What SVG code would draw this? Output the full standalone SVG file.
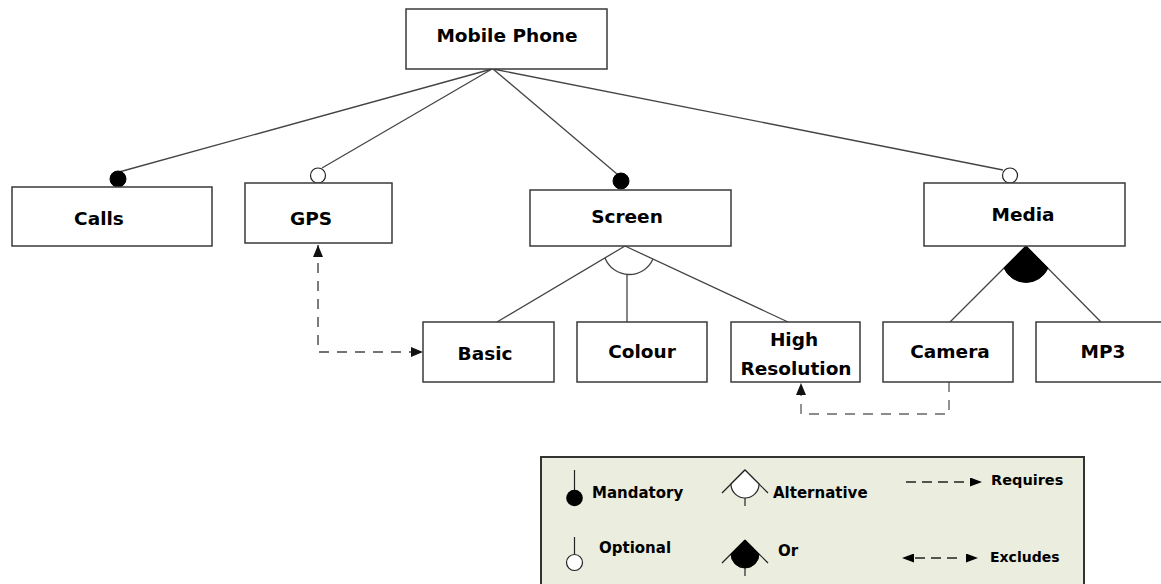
<svg xmlns="http://www.w3.org/2000/svg" width="1161" height="584" viewBox="0 0 1161 584">
  <style>
    .box { fill: #ffffff; stroke: #3a3a3a; stroke-width: 1.5; }
    .lbl { font-family: "DejaVu Sans", Verdana, sans-serif; font-weight: bold; font-size: 18.5px; fill: #000; text-anchor: middle; }
    .key { font-family: "DejaVu Sans", Verdana, sans-serif; font-weight: bold; font-size: 15px; fill: #000; }
    .edge { fill: none; stroke: #444; stroke-width: 1.3; }
    .dash { fill: none; stroke: #444; stroke-width: 1.4; stroke-dasharray: 10 8; }
    .dash2 { fill: none; stroke: #666; stroke-width: 1.4; stroke-dasharray: 10 8; }
    .mand { fill: #000; stroke: #000; stroke-width: 1; }
    .opt { fill: #fff; stroke: #222; stroke-width: 1.2; }
  </style>
  <defs>
    <marker id="arrow" markerUnits="userSpaceOnUse" markerWidth="12" markerHeight="10" refX="12" refY="5" orient="auto-start-reverse">
      <path d="M0,0 L12,5 L0,10 Z" fill="#111"/>
    </marker>
    <marker id="arrowSmall" markerUnits="userSpaceOnUse" markerWidth="12" markerHeight="9" refX="12" refY="4.5" orient="auto-start-reverse">
      <path d="M0,0 L12,4.5 L0,9 Z" fill="#000"/>
    </marker>
  </defs>

  <rect width="1161" height="584" fill="#ffffff"/>

  <!-- connectors -->
  <g id="connectors">
    <!-- root to children -->
    <line class="edge" x1="492" y1="69" x2="119" y2="172"/>
    <line class="edge" x1="492" y1="69" x2="322" y2="168"/>
    <line class="edge" x1="493" y1="69" x2="617" y2="174"/>
    <line class="edge" x1="493" y1="69" x2="1003" y2="170"/>
    <circle class="mand" cx="118" cy="179" r="8"/>
    <circle class="opt" cx="318" cy="175.5" r="7.5"/>
    <circle class="mand" cx="621" cy="181" r="8"/>
    <circle class="opt" cx="1010" cy="175.5" r="7.5"/>

    <!-- Screen alternative group -->
    <line class="edge" x1="625" y1="246" x2="497" y2="322"/>
    <line class="edge" x1="625" y1="246" x2="788" y2="322"/>
    <line class="edge" x1="627" y1="275" x2="627" y2="322"/>
    <path class="edge" d="M605,258 A26,26 0 0,0 653,259"/>

    <!-- Media or group -->
    <line class="edge" x1="1026" y1="246" x2="950" y2="322"/>
    <line class="edge" x1="1026" y1="246" x2="1101" y2="322"/>
    <path d="M1026,246 L1004,268 A24,24 0 0,0 1048,268 Z" fill="#000" stroke="#000" stroke-width="1"/>

    <!-- cross-tree constraints -->
    <path class="dash" d="M318,245 V352 H423" marker-start="url(#arrow)" marker-end="url(#arrow)"/>
    <path class="dash2" d="M949,382 V414 H801 V383" marker-end="url(#arrow)"/>
  </g>

  <!-- feature nodes -->
  <g id="mobile-phone">
    <rect class="box" x="406" y="9" width="201" height="60"/>
    <text class="lbl" x="507" y="42">Mobile Phone</text>
  </g>
  <g id="calls">
    <rect class="box" x="12" y="187" width="200" height="59"/>
    <text class="lbl" x="99" y="225">Calls</text>
  </g>
  <g id="gps">
    <rect class="box" x="245" y="183" width="147" height="60"/>
    <text class="lbl" x="311" y="225">GPS</text>
  </g>
  <g id="screen">
    <rect class="box" x="530" y="190" width="201" height="56"/>
    <text class="lbl" x="627" y="223">Screen</text>
  </g>
  <g id="media">
    <rect class="box" x="924" y="183" width="201" height="63"/>
    <text class="lbl" x="1023" y="221">Media</text>
  </g>
  <g id="basic">
    <rect class="box" x="423" y="322" width="131" height="60"/>
    <text class="lbl" x="485" y="360">Basic</text>
  </g>
  <g id="colour">
    <rect class="box" x="577" y="322" width="130" height="60"/>
    <text class="lbl" x="642" y="358">Colour</text>
  </g>
  <g id="high-resolution">
    <rect class="box" x="731" y="322" width="129" height="60"/>
    <text class="lbl" x="794" y="346">High</text>
    <text class="lbl" x="796" y="375">Resolution</text>
  </g>
  <g id="camera">
    <rect class="box" x="883" y="322" width="130" height="60"/>
    <text class="lbl" x="950" y="358">Camera</text>
  </g>
  <g id="mp3">
    <rect class="box" x="1036" y="322" width="130" height="60"/>
    <text class="lbl" x="1103" y="358">MP3</text>
  </g>

  <!-- legend -->
  <g id="legend">
    <rect x="541" y="457" width="543" height="135" fill="#ebeddf" stroke="#333" stroke-width="2"/>

    <line x1="574.5" y1="470" x2="574.5" y2="490" stroke="#222" stroke-width="1.2"/>
    <circle cx="574.5" cy="498" r="8.3" fill="#000"/>
    <text class="key" x="592" y="498">Mandatory</text>

    <line x1="574.5" y1="537" x2="574.5" y2="554" stroke="#222" stroke-width="1.2"/>
    <circle cx="574.5" cy="562.5" r="8" fill="#fff" stroke="#222" stroke-width="1.2"/>
    <text class="key" x="599" y="553">Optional</text>

    <line x1="745" y1="470" x2="722" y2="493" stroke="#222" stroke-width="1.2"/>
    <line x1="745" y1="470" x2="768" y2="493" stroke="#222" stroke-width="1.2"/>
    <path d="M745,470 L731,484 A14,14 0 0,0 759,484 Z" fill="#fff" stroke="#222" stroke-width="1.2"/>
    <line x1="745" y1="498" x2="745" y2="506" stroke="#222" stroke-width="1.2"/>
    <text class="key" x="773" y="498">Alternative</text>

    <line x1="745" y1="540" x2="722" y2="563" stroke="#222" stroke-width="1.2"/>
    <line x1="745" y1="540" x2="768" y2="563" stroke="#222" stroke-width="1.2"/>
    <path d="M745,540 L731,554 A14,14 0 0,0 759,554 Z" fill="#000" stroke="#000" stroke-width="1"/>
    <line x1="745" y1="568" x2="745" y2="576" stroke="#222" stroke-width="1.2"/>
    <text class="key" x="778" y="556">Or</text>

    <path d="M906,482 H982" fill="none" stroke="#222" stroke-width="1.3" stroke-dasharray="10 6" marker-end="url(#arrowSmall)"/>
    <text class="key" x="991" y="485" style="font-size:14.5px">Requires</text>

    <path d="M902,558 H978" fill="none" stroke="#222" stroke-width="1.3" stroke-dasharray="0 13 10 6 10 6 10 100" marker-start="url(#arrowSmall)" marker-end="url(#arrowSmall)"/>
    <text class="key" x="990" y="562" style="font-size:14px">Excludes</text>
  </g>
</svg>
